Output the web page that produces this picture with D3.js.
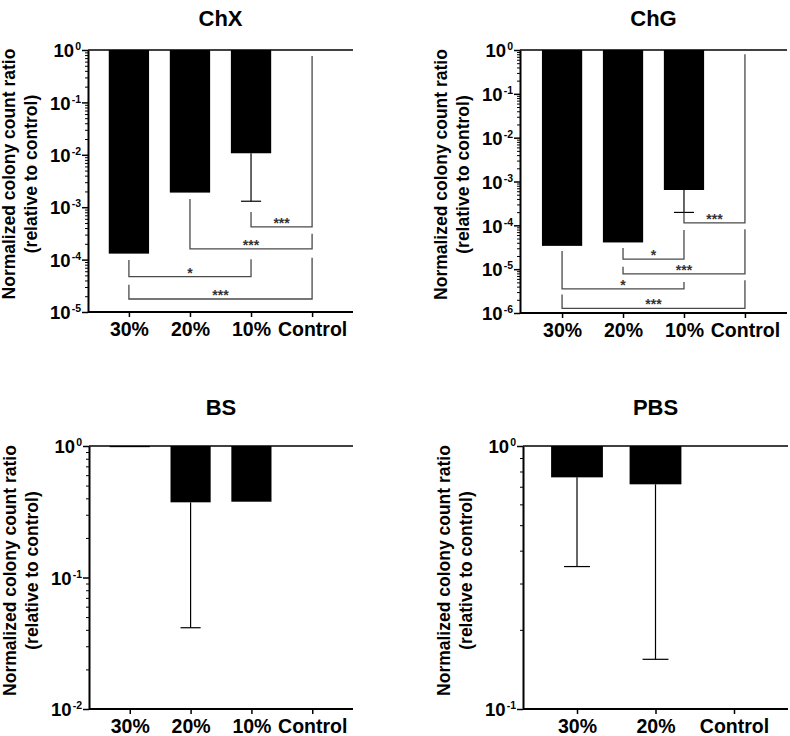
<!DOCTYPE html>
<html>
<head>
<meta charset="utf-8">
<script src="https://cdn.jsdelivr.net/npm/d3@7"></script>
<style>
  html, body { margin: 0; padding: 0; background: #fff; }
  svg { display: block; font-family: "Liberation Sans", Arial, sans-serif; }
</style>
</head>
<body>
<svg id="chart" width="790" height="736"></svg>
<script>
// ---------- Data ----------
const titles = ["ChX", "ChG", "BS", "PBS"];
const cats4 = ["30%", "20%", "10%", "Control"];
const cats3 = ["30%", "20%", "Control"];

const chxValues = [1.3e-4, 1.9e-3, 1.07e-2, 1];
const chxErrLow = [null, null, 1.3e-3, null];
const chxDomain = [1e-5, 1];
// [from, to, leftArmTop, rightArmTop, level, label]
const chxBrackets = [
  ["10%", "Control", 8.1e-4, 0.77, 4.2e-4, "***"],
  ["20%", "Control", 1.43e-3, 3.1e-4, 1.6e-4, "***"],
  ["30%", "10%", 9.8e-5, 1.01e-4, 4.75e-5, "*"],
  ["30%", "Control", 3.3e-5, 1.09e-4, 1.77e-5, "***"]
];

const chgValues = [3.4e-5, 4.07e-5, 6.4e-4, 1];
const chgErrLow = [null, null, 1.97e-4, null];
const chgDomain = [1e-6, 1];
const chgBrackets = [
  ["10%", "Control", 1.97e-4, 0.8, 1.14e-4, "***"],
  ["20%", "10%", 3.06e-5, 7.8e-5, 1.69e-5, "*"],
  ["20%", "Control", 1.13e-5, 8.1e-5, 7.8e-6, "***"],
  ["30%", "10%", 2.58e-5, 5.1e-6, 3.55e-6, "*"],
  ["30%", "Control", 2.64e-6, 5.6e-6, 1.27e-6, "***"]
];

const bsValues = [0.98, 0.373, 0.377, 1];
const bsErrLow = [null, 0.0415, null, null];
const bsDomain = [1e-2, 1];

const pbsValues = [0.76, 0.715, 1];
const pbsErrLow = [0.348, 0.1545, null];
const pbsDomain = [1e-1, 1];

const yTitle1 = "Normalized colony count ratio";
const yTitle2 = "(relative to control)";

// ---------- Layout (positions only) ----------
const layouts = [
  { x0: 88,  x1: 353, yTop: 50,  yBot: 312, pad: 0.67,  titleY: 26 },
  { x0: 520, x1: 787, yTop: 50,  yBot: 313, pad: 0.69,  titleY: 26 },
  { x0: 89,  x1: 353, yTop: 446, yBot: 709, pad: 0.67,  titleY: 415 },
  { x0: 523, x1: 788, yTop: 446, yBot: 709, pad: 0.688, titleY: 415 }
];

const panels = [
  { cats: cats4, values: chxValues, err: chxErrLow, domain: chxDomain, brackets: chxBrackets },
  { cats: cats4, values: chgValues, err: chgErrLow, domain: chgDomain, brackets: chgBrackets },
  { cats: cats4, values: bsValues,  err: bsErrLow,  domain: bsDomain,  brackets: [] },
  { cats: cats3, values: pbsValues, err: pbsErrLow, domain: pbsDomain, brackets: [] }
];

const svg = d3.select("#chart");

panels.forEach((p, i) => {
  const L = layouts[i];
  const g = svg.append("g");

  const x = d3.scalePoint().domain(p.cats).range([L.x0, L.x1]).padding(L.pad);
  const y = d3.scaleLog().domain(p.domain).range([L.yBot, L.yTop]);
  const bw = x.step() * 0.66;

  // Decades & minor ticks
  const e0 = Math.round(Math.log10(p.domain[0]));
  const e1 = Math.round(Math.log10(p.domain[1]));
  const majors = d3.range(e0, e1 + 1).map(e => Math.pow(10, e));
  const minors = [];
  for (let e = e0; e < e1; e++) for (let m = 2; m <= 9; m++) minors.push(m * Math.pow(10, e));

  // Bars
  p.cats.forEach((c, j) => {
    const v = p.values[j];
    if (v == null || v >= 1) return;
    g.append("rect")
      .attr("x", x(c) - bw / 2)
      .attr("y", y(1))
      .attr("width", bw)
      .attr("height", y(v) - y(1))
      .attr("fill", "#000");
  });

  // Error bars (downward)
  p.cats.forEach((c, j) => {
    const e = p.err[j];
    if (e == null) return;
    g.append("line")
      .attr("x1", x(c)).attr("x2", x(c))
      .attr("y1", y(p.values[j])).attr("y2", y(e))
      .attr("stroke", "#000").attr("stroke-width", 1.2);
    g.append("line")
      .attr("x1", x(c) - bw / 4).attr("x2", x(c) + bw / 4)
      .attr("y1", y(e)).attr("y2", y(e))
      .attr("stroke", "#000").attr("stroke-width", 1.2);
  });

  // Significance brackets
  p.brackets.forEach(b => {
    const [from, to, lt, rt, lv, lab] = b;
    const xa = x(from), xb = x(to);
    const path = d3.path();
    path.moveTo(xa, y(lt));
    path.lineTo(xa, y(lv));
    path.lineTo(xb, y(lv));
    path.lineTo(xb, y(rt));
    g.append("path")
      .attr("d", path.toString())
      .attr("fill", "none")
      .attr("stroke", "#4a4a4a")
      .attr("stroke-width", 1.3);
    g.append("text")
      .attr("x", (xa + xb) / 2)
      .attr("y", y(lv) + 1)
      .attr("text-anchor", "middle")
      .attr("font-size", 14)
      .attr("font-weight", "bold")
      .attr("fill", "#333")
      .text(lab);
  });

  // Baseline at 10^0
  g.append("line")
    .attr("x1", L.x0).attr("x2", L.x1)
    .attr("y1", y(1)).attr("y2", y(1))
    .attr("stroke", "#000").attr("stroke-width", 1.6);

  // Minor y ticks
  g.append("g")
    .attr("transform", `translate(${L.x0},0)`)
    .call(d3.axisLeft(y).tickValues(minors).tickSize(3).tickSizeOuter(0).tickFormat(() => ""))
    .call(s => s.select(".domain").remove())
    .call(s => s.selectAll(".tick line").attr("stroke", "#000").attr("stroke-width", 1));

  // Major y axis
  const ya = g.append("g")
    .attr("transform", `translate(${L.x0},0)`)
    .call(d3.axisLeft(y).tickValues(majors).tickSize(6).tickSizeOuter(0).tickPadding(1).tickFormat(() => ""));
  ya.select(".domain").attr("stroke", "#000").attr("stroke-width", 2);
  ya.selectAll(".tick line").attr("stroke", "#000").attr("stroke-width", 1.5);
  ya.selectAll(".tick text")
    .attr("font-size", 18.5)
    .attr("font-weight", "bold")
    .attr("font-family", "'Liberation Sans', Arial, sans-serif")
    .attr("fill", "#000")
    .attr("dy", "0.36em")
    .each(function (d) {
      const t = d3.select(this);
      t.append("tspan").text("10");
      t.append("tspan").attr("font-size", 10.5).attr("dx", 1).attr("dy", -7).text(String(Math.round(Math.log10(d))));
    });

  // X axis
  const xa = g.append("g")
    .attr("transform", `translate(0,${L.yBot})`)
    .call(d3.axisBottom(x).tickSize(5).tickSizeOuter(0).tickPadding(5));
  xa.select(".domain").attr("stroke", "#000").attr("stroke-width", 2)
    .attr("d", `M${L.x0},0H${L.x1}`);
  xa.selectAll(".tick line").attr("stroke", "#000").attr("stroke-width", 1.5);
  xa.selectAll(".tick text")
    .attr("font-size", 19.5)
    .attr("font-weight", "bold")
    .attr("font-family", "'Liberation Sans', Arial, sans-serif")
    .attr("fill", "#000");

  // Title
  g.append("text")
    .attr("x", (L.x0 + L.x1) / 2)
    .attr("y", L.titleY)
    .attr("text-anchor", "middle")
    .attr("font-size", 22)
    .attr("font-weight", "bold")
    .text(titles[i]);

  // Y-axis title
  const cy = (L.yTop + L.yBot) / 2 - 7;
  [[yTitle1, L.x0 - 73], [yTitle2, L.x0 - 51]].forEach(([txt, bx]) => {
    g.append("text")
      .attr("transform", `translate(${bx},${cy}) rotate(-90)`)
      .attr("text-anchor", "middle")
      .attr("font-size", 17.5)
      .attr("font-weight", "bold")
      .text(txt);
  });
});
</script>
</body>
</html>
